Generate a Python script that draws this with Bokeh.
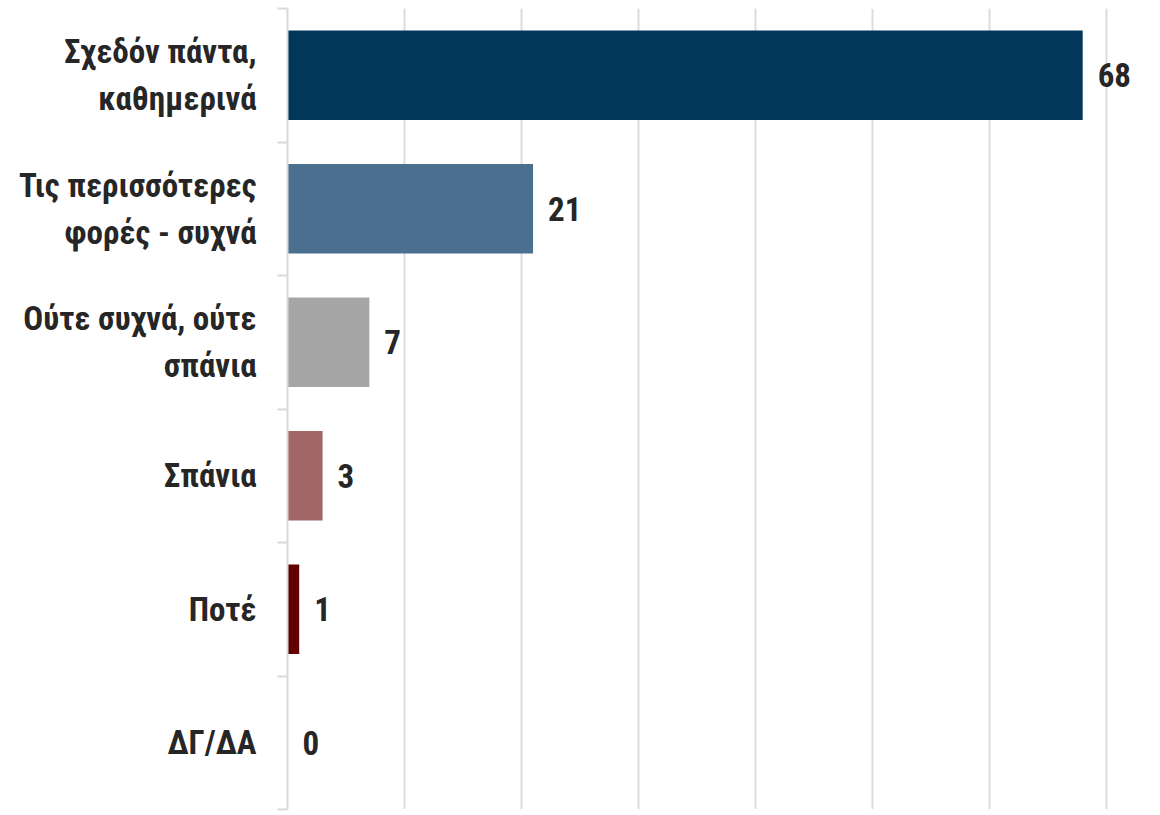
from bokeh.plotting import figure
from bokeh.models import Range1d, FixedTicker, ColumnDataSource
from bokeh.core.properties import value
from bokeh.embed import file_html
from bokeh.resources import INLINE

categories = ["Σχεδόν πάντα,\nκαθημερινά", "Τις περισσότερες\nφορές - συχνά",
              "Ούτε συχνά, ούτε\nσπάνια", "Σπάνια", "Ποτέ", "ΔΓ/ΔΑ"]
values = [68, 21, 7, 3, 1, 0]
colors = ["#02365A", "#4B6F8E", "#A6A6A6", "#A16767", "#600000", "#FFFFFF"]
x_ticks = [0, 10, 20, 30, 40, 50, 60, 70]

FONT = "'Liberation Sans Narrow', 'Arial Narrow', 'Roboto Condensed', 'Liberation Sans'"

n = len(categories)
ys = [n - 0.5 - i for i in range(n)]
labels = [str(v) for v in values]

src = ColumnDataSource(dict(y=ys, v=values, c=colors, t=labels))

p = figure(width=1150, height=811, output_backend="svg", toolbar_location=None,
           x_range=Range1d(0, 73.8), y_range=Range1d(0, n),
           min_border_left=287, min_border_right=0, min_border_top=8, min_border_bottom=2)
p.outline_line_color = None
p.background_fill_color = "white"

p.hbar(y="y", right="v", left=0, height=0.67, color="c", source=src, line_color=None)
p.text(x="v", y="y", text="t", source=src, x_offset=15, text_baseline="middle",
       text_align="left", text_font=value(FONT), text_font_style="bold",
       text_font_size="33px", text_color="#262626")

p.xaxis.visible = False
p.xgrid.ticker = FixedTicker(ticks=x_ticks)
p.xgrid.grid_line_color = "#dddddd"
p.xgrid.grid_line_width = 2
p.ygrid.grid_line_color = None

ax = p.yaxis[0]
ax.ticker = FixedTicker(ticks=ys, minor_ticks=list(range(n + 1)))
ax.major_label_overrides = {y: c for y, c in zip(ys, categories)}
ax.major_tick_line_color = None
ax.major_tick_out = 0
ax.major_tick_in = 0
ax.minor_tick_line_color = "#d9d9d9"
ax.minor_tick_line_width = 2
ax.minor_tick_out = 10
ax.minor_tick_in = 0
ax.axis_line_color = "#d9d9d9"
ax.axis_line_width = 2
ax.major_label_standoff = 21
ax.major_label_text_font = FONT
ax.major_label_text_font_style = "bold"
ax.major_label_text_font_size = "33px"
ax.major_label_text_color = "#262626"
ax.major_label_text_line_height = 1.2

open("out.html", "w").write(file_html(p, INLINE))
